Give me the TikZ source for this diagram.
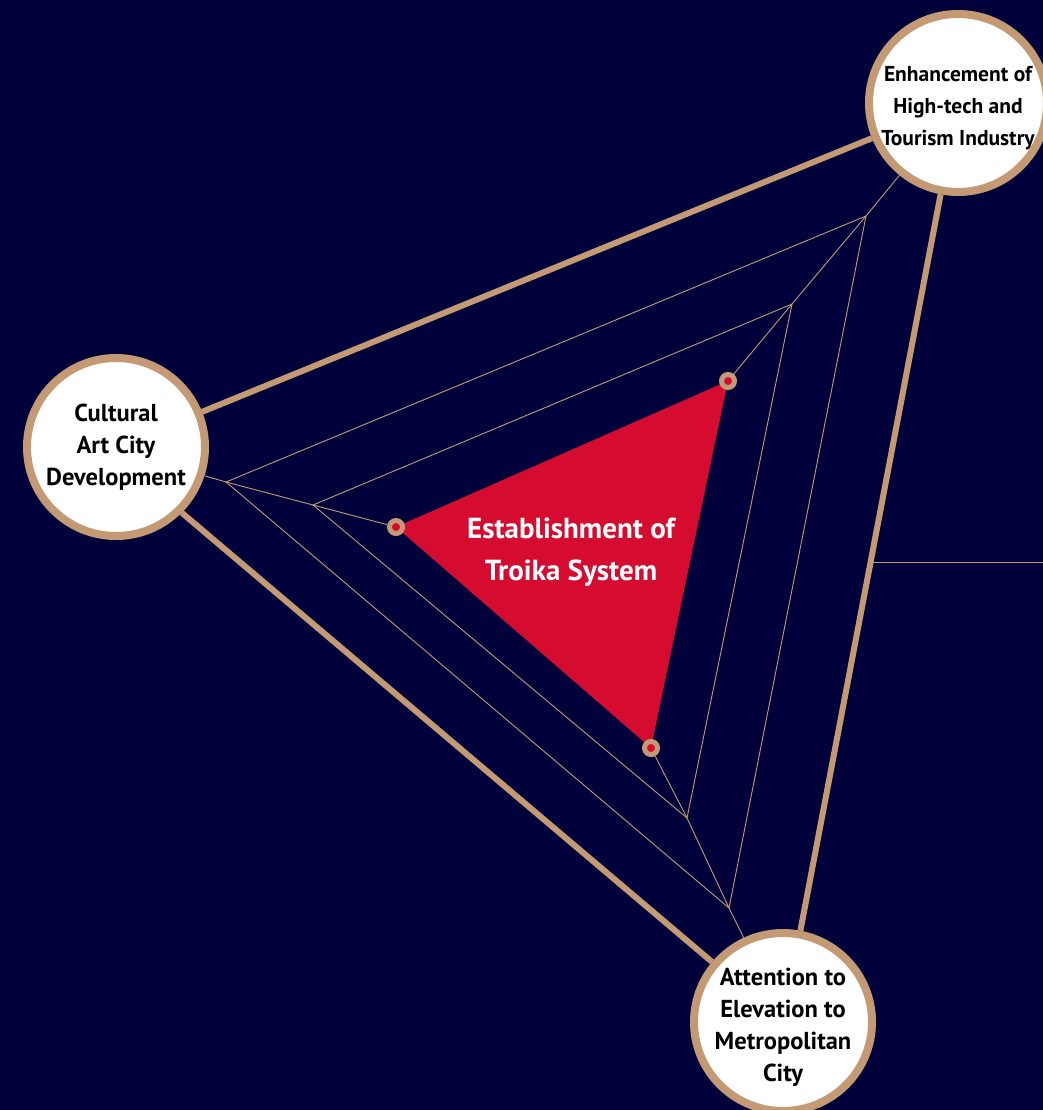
\documentclass[tikz,border=0pt]{standalone}
\usepackage{fontspec}
\setmainfont{PT Sans}
\usetikzlibrary{calc}
\definecolor{navy}{RGB}{0,0,58}
\definecolor{tan}{RGB}{196,154,116}
\definecolor{troikared}{RGB}{213,11,48}
\begin{document}
\begin{tikzpicture}[x=1pt, y=-1pt,
    goal/.style={circle, draw=tan, fill=white, line width=8pt, minimum size=178pt, inner sep=0pt, align=center, font=\bfseries\fontsize{24.5}{32}\selectfont},
    goaltext/.style={align=center, inner sep=0pt, yshift=-5pt, font=\bfseries\fontsize{#1}{32}\selectfont},
    link/.style={draw=tan, line width=6pt},
    web/.style={draw=tan, line width=0.9pt},
    pin/.style={circle, draw=tan, fill=troikared, line width=5pt, minimum size=13pt, inner sep=0pt}]
  \clip (0,0) rectangle (1043,1110);
  \fill[navy] (0,0) rectangle (1043,1110);

  \coordinate (l1) at (396,527); \coordinate (t1) at (728,381); \coordinate (b1) at (651,748);
  \coordinate (l2) at (313,505); \coordinate (t2) at (792,304); \coordinate (b2) at (687,818);
  \coordinate (l3) at (226,482); \coordinate (t3) at (866,216); \coordinate (b3) at (729,908);

  \fill[troikared] (l1) -- (t1) -- (b1) -- cycle;
  \draw[web] (l2) -- (t2) -- (b2) -- cycle;
  \draw[web] (l3) -- (t3) -- (b3) -- cycle;
  \node[text=white, align=center, font=\bfseries\fontsize{29}{42}\selectfont] (troika) at (571,552) {Establishment of\\Troika System};

  \node[goal] (cultural) at (116,447) {Cultural\\Art City\\Development};
  \node[goal, label={[goaltext=21.5]center:{Enhancement of\\High-tech and\\Tourism Industry}}] (hightech) at (958,103) {};
  \node[goal, label={[goaltext=24.5]center:{Attention to\\Elevation to\\Metropolitan\\City}}] (metro) at (783,1022) {};

  \node[pin] (pl) at (l1) {};
  \node[pin] (pt) at (t1) {};
  \node[pin] (pb) at (b1) {};

  \draw[web] (cultural.-18) -- (l3) -- (l2) -- (pl);
  \draw[web] (hightech.-129) -- (t3) -- (t2) -- (pt);
  \draw[web] (metro.115) -- (b3) -- (b2) -- (pb);

  \draw[link] (cultural) -- (hightech);
  \draw[link] (cultural.-45) -- (metro);
  \draw[link] (hightech) -- (metro);
  \draw[tan, line width=1.8pt] ($(hightech)!0.5!(metro)$) -- ++(200,0);
\end{tikzpicture}
\end{document}
